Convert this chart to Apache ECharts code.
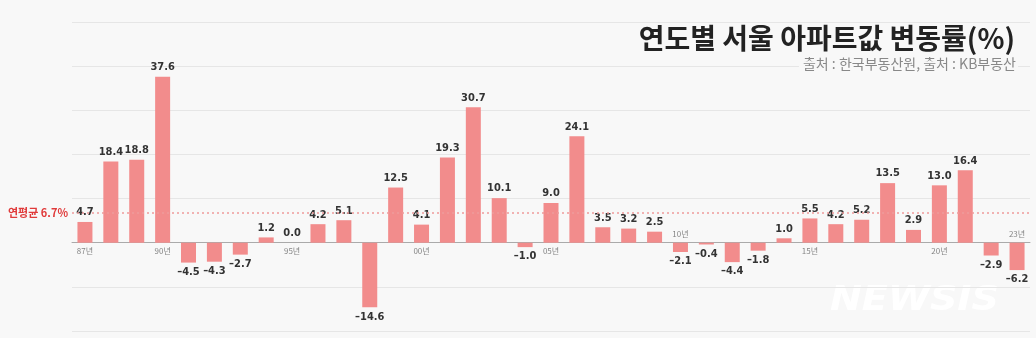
<!DOCTYPE html>
<html>
<head>
<meta charset="utf-8">
<script src="https://cdn.jsdelivr.net/npm/echarts@6/dist/echarts.min.js"></script>
<style>
html,body{margin:0;padding:0;background:#f8f8f8;}
#c{width:1036px;height:338px;}
</style>
</head>
<body>
<div id="c"></div>
<script>
const years = [1987,1988,1989,1990,1991,1992,1993,1994,1995,1996,1997,1998,1999,2000,2001,2002,2003,2004,2005,2006,2007,2008,2009,2010,2011,2012,2013,2014,2015,2016,2017,2018,2019,2020,2021,2022,2023];
const changes = [4.7,18.4,18.8,37.6,-4.5,-4.3,-2.7,1.2,0.0,4.2,5.1,-14.6,12.5,4.1,19.3,30.7,10.1,-1.0,9.0,24.1,3.5,3.2,2.5,-2.1,-0.4,-4.4,-1.8,1.0,5.5,4.2,5.2,13.5,2.9,13.0,16.4,-2.9,-6.2];
const tickYears = [1987,1990,1995,2000,2005,2010,2015,2020,2023];
const average = 6.7;
const titleText = '연도별 서울 아파트값 변동률(%)';
const sourceText = '출처 : 한국부동산원, 출처 : KB부동산';
const avgLabel = '연평균 6.7%';

const cats = years.map(String);
const fmt = v => (v < 0 ? '–' + Math.abs(v).toFixed(1) : v.toFixed(1));

const barData = changes.map(v => ({
  value: v,
  label: { position: v < 0 ? 'bottom' : 'top' }
}));

const yearLabelData = tickYears.map(y => {
  const i = years.indexOf(y);
  return {
    value: [String(y), 0],
    label: {
      show: true,
      position: changes[i] < 0 ? 'top' : 'bottom',
      formatter: String(y).slice(2) + '년'
    }
  };
});

const chart = echarts.init(document.getElementById('c'));
chart.setOption({
  backgroundColor: '#f8f8f8',
  animation: false,
  title: [
    { text: titleText, right: 16, top: 19,
      textStyle: { fontFamily: 'Noto Sans CJK KR', fontWeight: 'bold', fontSize: 28, color: '#222' } },
    { text: sourceText, right: 18, top: 57, backgroundColor: '#f8f8f8', padding: [0, 2, 0, 4],
      textStyle: { fontFamily: 'Noto Sans CJK KR', fontWeight: 'normal', fontSize: 14, color: '#888' } }
  ],
  grid: { left: 72, right: 6, top: 22, bottom: 7 },
  xAxis: {
    type: 'category', data: cats,
    axisLine: { onZero: true, lineStyle: { color: '#aaa', width: 1 } },
    axisTick: { show: false },
    axisLabel: { show: false }
  },
  yAxis: {
    type: 'value', min: -20, max: 50, interval: 10,
    axisLabel: { show: false },
    axisLine: { show: false }, axisTick: { show: false },
    splitLine: { lineStyle: { color: '#e6e6e6', width: 1 } }
  },
  series: [
    {
      type: 'bar', data: barData, barWidth: 15, z: 3,
      itemStyle: { color: '#f28c8c' },
      label: {
        show: true, distance: 4,
        fontFamily: 'DejaVu Sans Condensed', fontWeight: 'bold', fontSize: 11, color: '#333',
        formatter: p => fmt(p.value)
      },
      markLine: {
        silent: true, symbol: 'none',
        lineStyle: { color: '#ee9a9a', type: [2, 3], width: 1.5 },
        label: { show: true, position: 'start', distance: 4, formatter: avgLabel,
          fontFamily: 'Noto Sans CJK KR', fontWeight: 'bold', fontSize: 11, color: '#e03a3a' },
        data: [{ yAxis: average }]
      }
    },
    {
      type: 'scatter', data: yearLabelData, symbolSize: 1, z: 4,
      itemStyle: { color: 'rgba(0,0,0,0)' },
      label: { distance: 4, fontFamily: 'Noto Sans CJK KR', fontSize: 8, color: '#666' }
    }
  ],
  graphic: [
    { type: 'text', left: 830, top: 284, scaleX: 1.12,
      style: { text: 'NEWSIS', font: 'italic bold 34px "DejaVu Sans"', fill: '#ffffff',
        shadowColor: 'rgba(0,0,0,0.3)', shadowBlur: 6 } }
  ]
});
</script>
</body>
</html>
